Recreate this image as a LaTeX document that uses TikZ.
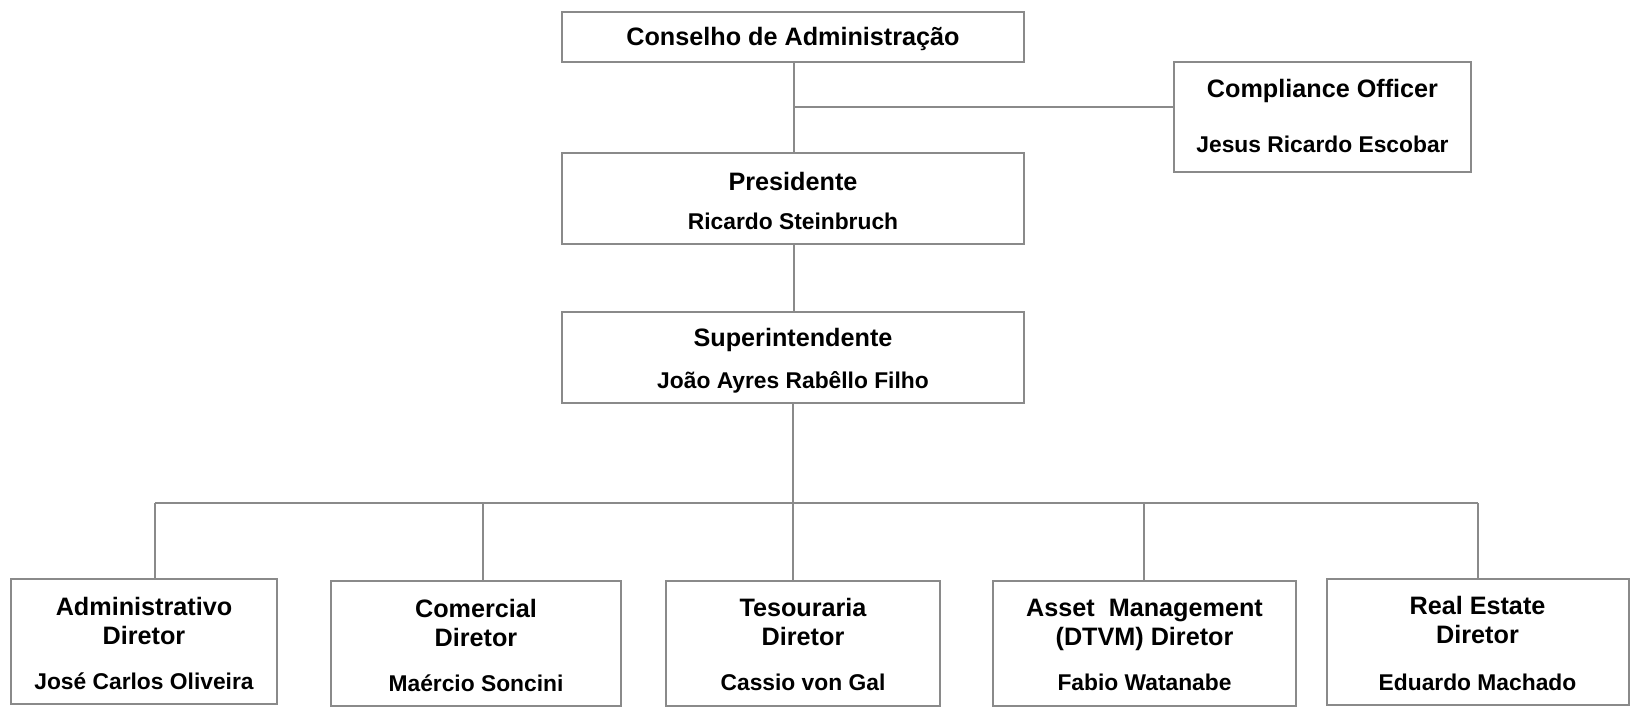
\documentclass[tikz,border=0pt]{standalone}
\usepackage{fontspec}
\setmainfont{Liberation Sans}
\definecolor{boxgray}{HTML}{8A8A8A}
\definecolor{linegray}{HTML}{8A8A8A}
\begin{document}
\begin{tikzpicture}[x=0.5pt,y=-0.5pt,
  box/.style={draw=boxgray, line width=1pt, fill=white, inner sep=0pt, rectangle},
  ttl/.style={font=\fontsize{12.6}{14}\selectfont\bfseries, anchor=base, inner sep=0pt},
  nm/.style={font=\fontsize{11.4}{13}\selectfont\bfseries, anchor=base, inner sep=0pt},
  conn/.style={draw=linegray, line width=0.75pt}]
\useasboundingbox (0,0) rectangle (1630,715);
% boxes
\node[box, minimum width=231pt, minimum height=25pt] (cons) at (793,37) {};
\node[box, minimum width=148.5pt, minimum height=55pt] (comp) at (1322.5,117) {};
\node[box, minimum width=231pt, minimum height=45.5pt] (pres) at (793,198.5) {};
\node[box, minimum width=231pt, minimum height=45.5pt] (sup) at (793,357.5) {};
\node[box, minimum width=133pt, minimum height=62.5pt] (adm) at (144,641.5) {};
\node[box, minimum width=145pt, minimum height=62.5pt] (com) at (476,643.5) {};
\node[box, minimum width=137pt, minimum height=62.5pt] (tes) at (803,643.5) {};
\node[box, minimum width=151.5pt, minimum height=62.5pt] (ast) at (1144.5,643.5) {};
\node[box, minimum width=151pt, minimum height=63pt] (rea) at (1477.5,642) {};
% texts
\node[ttl] (t-cons) at (793,46) {Conselho de Administração};
\node[ttl] (t-comp) at (1322.5,98) {Compliance Officer};
\node[nm]  (n-comp) at (1322.5,153) {Jesus Ricardo Escobar};
\node[ttl] (t-pres) at (793,191) {Presidente};
\node[nm]  (n-pres) at (793,230) {Ricardo Steinbruch};
\node[ttl] (t-sup) at (793,347) {Superintendente};
\node[nm]  (n-sup) at (793,389) {João Ayres Rabêllo Filho};
\node[ttl] (t-adm1) at (144,616) {Administrativo};
\node[ttl] (t-adm2) at (144,645) {Diretor};
\node[nm]  (n-adm) at (144,690) {José Carlos Oliveira};
\node[ttl] (t-com1) at (476,618) {Comercial};
\node[ttl] (t-com2) at (476,647) {Diretor};
\node[nm]  (n-com) at (476,692) {Maércio Soncini};
\node[ttl] (t-tes1) at (803,617) {Tesouraria};
\node[ttl] (t-tes2) at (803,646) {Diretor};
\node[nm]  (n-tes) at (803,691) {Cassio von Gal};
\node[ttl] (t-ast1) at (1144.5,617) {Asset\ \ Management};
\node[ttl] (t-ast2) at (1144.5,646) {(DTVM) Diretor};
\node[nm]  (n-ast) at (1144.5,691) {Fabio Watanabe};
\node[ttl] (t-rea1) at (1477.5,615) {Real Estate};
\node[ttl] (t-rea2) at (1477.5,644) {Diretor};
\node[nm]  (n-rea) at (1477.5,691) {Eduardo Machado};
% connectors
\coordinate (j1) at (794,107);
\coordinate (bl) at (155,503);
\coordinate (b2) at (483,503);
\coordinate (b4) at (1144,503);
\coordinate (br) at (1478,503);
\draw[conn] (cons.south -| j1) -- (pres.north -| j1);
\draw[conn] (j1) -- (j1 -| comp.west);
\draw[conn] (pres.south -| j1) -- (sup.north -| j1);
\draw[conn] (sup.south) -- (sup.south |- tes.north);
\draw[conn] (bl) -- (br);
\draw[conn] (bl) -- (bl |- adm.north);
\draw[conn] (b2) -- (b2 |- com.north);
\draw[conn] (b4) -- (b4 |- ast.north);
\draw[conn, line width=1pt] (br) -- (br |- rea.north);
\end{tikzpicture}
\end{document}
